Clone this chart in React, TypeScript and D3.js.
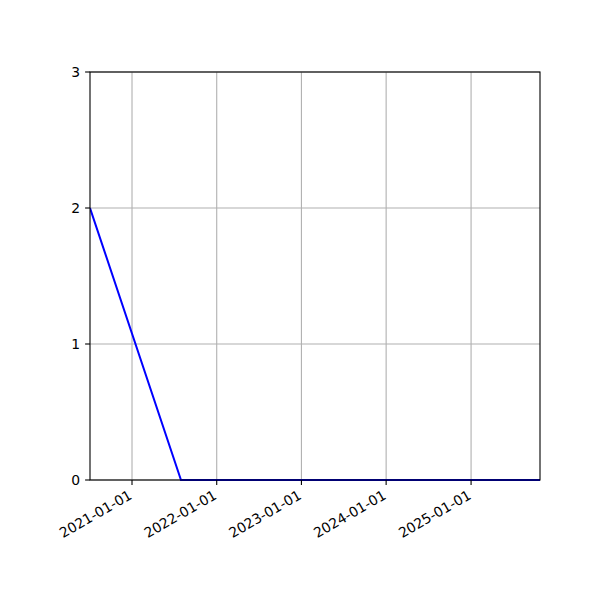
import React from "react";
import * as d3 from "d3";

const dates: string[] = ["2020-07-04", "2021-07-31", "2025-10-25"];
const values: number[] = [2, 0, 0];
const xTickLabels: string[] = ["2021-01-01", "2022-01-01", "2023-01-01", "2024-01-01", "2025-01-01"];
const yTicks: number[] = [0, 1, 2, 3];

const W = 600;
const H = 600;
const M = { left: 90, right: 60, top: 72, bottom: 120 };

export default function App() {
  const parse = d3.utcParse("%Y-%m-%d");
  const pts = dates.map((d, i) => ({ t: parse(d) as Date, v: values[i] }));
  const x = d3
    .scaleUtc()
    .domain(d3.extent(pts, (p) => p.t) as [Date, Date])
    .range([M.left, W - M.right]);
  const y = d3.scaleLinear().domain([0, 3]).range([H - M.bottom, M.top]);
  const line = d3
    .line<{ t: Date; v: number }>()
    .x((p) => x(p.t))
    .y((p) => y(p.v));
  const xt = xTickLabels.map((s) => ({ s, px: x(parse(s) as Date) }));
  const fs = 13.9;
  const font = "DejaVu Sans, sans-serif";
  const bottom = H - M.bottom;
  return (
    <svg width={W} height={H} style={{ display: "block", margin: 0, position: "absolute", left: 0, top: 0 }}>
      <rect x={0} y={0} width={W} height={H} fill="#fff" />
      {xt.map((t) => (
        <line key={"gx" + t.s} x1={t.px} x2={t.px} y1={M.top} y2={bottom} stroke="#b0b0b0" strokeWidth={1.1} />
      ))}
      {yTicks.map((v) => (
        <line key={"gy" + v} x1={M.left} x2={W - M.right} y1={y(v)} y2={y(v)} stroke="#b0b0b0" strokeWidth={1.1} />
      ))}
      <defs>
        <clipPath id="clip">
          <rect x={M.left} y={M.top - 2} width={W - M.left - M.right} height={bottom - M.top + 4} />
        </clipPath>
      </defs>
      <path d={line(pts) || ""} fill="none" stroke="#0000ff" strokeWidth={2} clipPath="url(#clip)" />
      <rect x={M.left} y={M.top} width={W - M.left - M.right} height={bottom - M.top} fill="none" stroke="#000" strokeWidth={1.1} />
      {xt.map((t) => (
        <g key={"xt" + t.s}>
          <line x1={t.px} x2={t.px} y1={bottom} y2={bottom + 4.9} stroke="#000" strokeWidth={1.1} />
          <text
            transform={`translate(${t.px + 1},${bottom + 18}) rotate(-30)`}
            textAnchor="end"
            fontFamily={font}
            fontSize={fs}
            fill="#000"
          >
            {t.s}
          </text>
        </g>
      ))}
      {yTicks.map((v) => (
        <g key={"yt" + v}>
          <line x1={M.left - 4.9} x2={M.left} y1={y(v)} y2={y(v)} stroke="#000" strokeWidth={1.1} />
          <text x={M.left - 9.8} y={y(v)} dy="0.35em" textAnchor="end" fontFamily={font} fontSize={fs} fill="#000">
            {v}
          </text>
        </g>
      ))}
    </svg>
  );
}
